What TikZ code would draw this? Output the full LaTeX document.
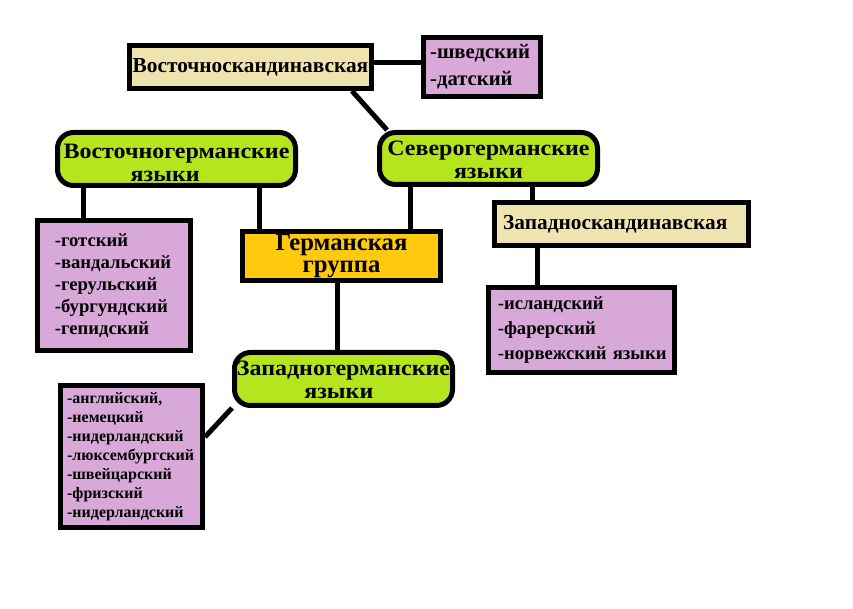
\documentclass[tikz,border=0pt]{standalone}
\usepackage{fontspec}
\setmainfont{Liberation Serif}
\newfontfamily\wideserif[FakeStretch=1.09]{Liberation Serif}
\usetikzlibrary{backgrounds}
\definecolor{beige}{HTML}{EFE4B0}
\definecolor{lilac}{HTML}{D7A8D8}
\definecolor{limeg}{HTML}{B5E61D}
\definecolor{amber}{HTML}{FFC90E}
\exhyphenpenalty=10000
\hyphenpenalty=10000
\hbadness=10000
\hfuzz=200pt
\newcommand{\lowertext}[2]{\raisebox{-#1}[\height][\depth]{\begin{tabular}{@{}c@{}}#2\end{tabular}}}
\begin{document}
\begin{tikzpicture}[x=0.75pt,y=-0.75pt,
  base/.style={draw=black, line width=3.75pt, font=\bfseries, inner sep=0pt},
  tanbox/.style={base, fill=beige},
  listbox/.style={base, fill=lilac, align=left},
  greenbox/.style={base, fill=limeg, rounded corners=12pt, font=\wideserif\bfseries\fontsize{16.5}{17}\selectfont},
  corebox/.style={base, fill=amber, align=center},
  link/.style={line width=3.75pt}]
\useasboundingbox (0,0) rectangle (853,609);

\node[tanbox, minimum width=181.5pt, minimum height=32.25pt, font=\bfseries\fontsize{16}{18}\selectfont] (vsk) at (250.5,67) {Восточноскандинавская};
\node[listbox, minimum width=87.75pt, minimum height=44.25pt, inner xsep=5pt, text width=77.75pt, font=\bfseries\fontsize{15.5}{20}\selectfont] (dat) at (482,67) {-шведский\\-датский};
\node[greenbox, minimum width=178.5pt, minimum height=39.75pt] (vg) at (176.5,159) {\lowertext{5pt}{Восточногерманские\\языки\hspace*{17pt}}};
\node[greenbox, minimum width=163.5pt, minimum height=39pt] (sg) at (488.5,158.5) {\lowertext{2.8pt}{Северогерманские\\языки}};
\node[listbox, minimum width=114.75pt, minimum height=97.5pt, inner xsep=13pt, text width=88.75pt, font=\bfseries\fontsize{14}{16.5}\selectfont] (got) at (114,285.5) {-готский\\-вандальский\\-герульский\\-бургундский\\-гепидский};
\node[corebox, minimum width=148.5pt, minimum height=36.75pt, font=\bfseries\fontsize{18.5}{17}\selectfont] (gg) at (341.5,256) {Германская\\группа};
\node[tanbox, minimum width=190.5pt, minimum height=32.25pt, inner xsep=6.5pt, text width=177.5pt, font=\bfseries\fontsize{16}{18}\selectfont] (wsk) at (621.5,224) {Западноскандинавская};
\node[listbox, minimum width=139.5pt, minimum height=63.75pt, inner xsep=7pt, text width=125.5pt, font=\bfseries\fontsize{14}{19}\selectfont] (isl) at (581.5,330) {-исландский\\-фарерский\\-норвежский~языки};
\node[greenbox, minimum width=163.5pt, minimum height=39.75pt] (zg) at (343.5,379) {\lowertext{2.8pt}{Западногерманские\\языки\hspace*{7pt}}};
\node[listbox, minimum width=106.5pt, minimum height=106.5pt, inner xsep=5pt, text width=96.5pt, font=\bfseries\fontsize{12}{14.25}\selectfont] (eng) at (131.5,456.5) {-английский,\\-немецкий\\-нидерландский\\-люксембургский\\-швейцарский\\-фризский\\-нидерландский};

\begin{scope}[on background layer]
\draw[link] (vsk.east |- 0,63) -- (dat.west |- 0,63);
\draw[link] (vsk.south -| 352,0) -- (sg.north -| 387,0);
\draw[link] (vg.south -| 83,0) -- (got.north -| 83,0);
\draw[link] (vg.south -| 259,0) -- (gg.north -| 259,0);
\draw[link] (sg.south -| 410,0) -- (gg.north -| 410,0);
\draw[link] (sg.south -| 532,0) -- (wsk.north -| 532,0);
\draw[link] (wsk.south -| 537,0) -- (isl.north -| 537,0);
\draw[link] (gg.south -| 337,0) -- (zg.north -| 337,0);
\draw[link] (zg.south west) -- (eng.east |- 0,437);
\end{scope}
\end{tikzpicture}
\end{document}
